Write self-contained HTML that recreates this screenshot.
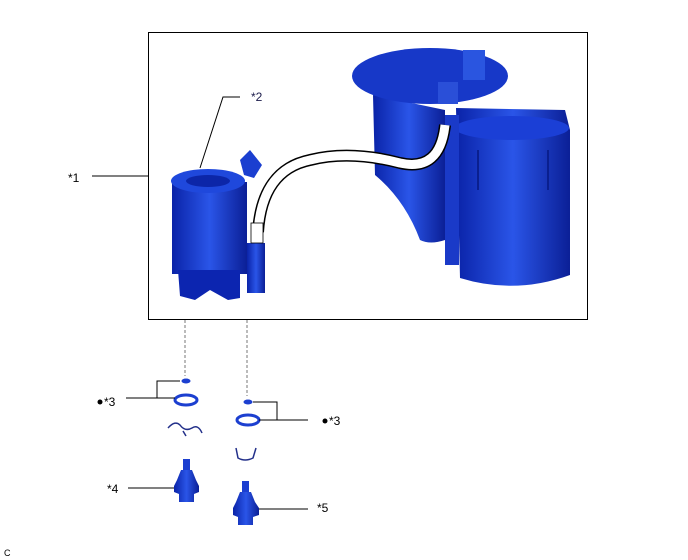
<!DOCTYPE html>
<html><head><style>
html,body{margin:0;padding:0;background:#fff;}
svg{display:block;font-family:"Liberation Sans",sans-serif;}
</style></head><body>
<svg width="688" height="560" viewBox="0 0 688 560" xmlns="http://www.w3.org/2000/svg">
<defs>
<linearGradient id="b" x1="0" x2="1"><stop offset="0" stop-color="#0a23a8"/><stop offset="0.5" stop-color="#2a55e8"/><stop offset="1" stop-color="#0b1f96"/></linearGradient>
</defs>
<rect x="148.5" y="32.5" width="439" height="287" fill="none" stroke="#000" stroke-width="1"/>
<text x="68" y="182" font-size="12">*1</text>
<line x1="92" y1="176" x2="148" y2="176" stroke="#000"/>
<text x="251" y="101" font-size="12" fill="#1a1a4a">*2</text>
<polyline points="240,97 223,97 200,168" fill="none" stroke="#000"/>
<path d="M373,95 L445,110 L445,240 Q430,245 420,240 Q405,200 375,175 Z" fill="url(#b)"/>
<path d="M456,108 L565,110 L570,130 L570,275 Q515,295 460,278 Z" fill="url(#b)"/>
<ellipse cx="512" cy="128" rx="57" ry="12" fill="#1b3fd6"/>
<line x1="478" y1="150" x2="478" y2="190" stroke="#0a1f8f" stroke-width="2"/>
<line x1="548" y1="150" x2="548" y2="190" stroke="#0a1f8f" stroke-width="2"/>
<rect x="445" y="115" width="14" height="150" fill="#1a3ac8"/>
<ellipse cx="430" cy="76" rx="78" ry="28" fill="#1738c8"/>
<rect x="463" y="50" width="22" height="30" fill="#2a55e0"/>
<rect x="438" y="82" width="20" height="22" fill="#2a4fd8"/>
<path d="M258,232 Q262,170 310,160 Q350,150 400,163 Q440,172 445,125" fill="none" stroke="#000" stroke-width="12"/>
<path d="M258,232 Q262,170 310,160 Q350,150 400,163 Q440,172 445,125" fill="none" stroke="#fff" stroke-width="9"/>
<rect x="172" y="182" width="75" height="92" fill="url(#b)"/>
<path d="M178,270 L240,270 L240,298 L228,300 L210,290 L195,300 L180,296 Z" fill="#0c25b0"/>
<ellipse cx="208" cy="181" rx="37" ry="12" fill="#1f48dc"/>
<ellipse cx="208" cy="181" rx="22" ry="6" fill="#0c26a8"/>
<path d="M240,160 L250,150 L262,165 L254,178 L244,175 Z" fill="#1b3fd0"/>
<rect x="247" y="243" width="18" height="50" fill="url(#b)"/>
<rect x="251" y="223" width="12" height="20" fill="#fff" stroke="#000" stroke-width="0.8"/>
<line x1="185" y1="320" x2="185" y2="376" stroke="#777" stroke-dasharray="3,2"/>
<line x1="247" y1="320" x2="247" y2="396" stroke="#777" stroke-dasharray="3,2"/>
<ellipse cx="186" cy="381" rx="4.5" ry="2.5" fill="#1c3fd0"/>
<ellipse cx="186" cy="400" rx="11" ry="5" fill="none" stroke="#1c3fd0" stroke-width="3"/>
<polyline points="180,381 157,381 157,398" fill="none" stroke="#000"/>
<line x1="126" y1="398" x2="175" y2="398" stroke="#000"/>
<circle cx="100" cy="402" r="2.5" fill="#000"/>
<text x="104" y="406" font-size="12">*3</text>
<ellipse cx="248" cy="402" rx="4.5" ry="2.5" fill="#1c3fd0"/>
<ellipse cx="248" cy="420" rx="11" ry="5" fill="none" stroke="#1c3fd0" stroke-width="3"/>
<polyline points="253,402 277,402 277,420" fill="none" stroke="#000"/>
<line x1="259" y1="420" x2="308" y2="420" stroke="#000"/>
<circle cx="325" cy="421" r="2.5" fill="#000"/>
<text x="329" y="425" font-size="12">*3</text>
<path d="M168,428 Q175,420 180,425 Q185,432 192,428 Q198,424 202,433 M183,431 L186,436" fill="none" stroke="#23308a" stroke-width="1.5"/>
<path d="M236,448 L238,458 Q245,462 253,458 L256,448" fill="none" stroke="#23308a" stroke-width="1.5"/>
<rect x="183" y="459" width="7" height="12" fill="#1c3fd0"/>
<path d="M181,470 L192,470 L196,480 L199,486 L199,492 L194,494 L194,502 L179,502 L179,494 L174,492 L174,486 L177,480 Z" fill="url(#b)"/>
<text x="107" y="493" font-size="12">*4</text>
<line x1="128" y1="488" x2="174" y2="488" stroke="#000"/>
<rect x="242" y="481" width="7" height="12" fill="#1c3fd0"/>
<path d="M240,492 L251,492 L255,502 L259,508 L259,515 L253,517 L253,525 L238,525 L238,517 L233,515 L233,508 L236,502 Z" fill="url(#b)"/>
<text x="317" y="512" font-size="12">*5</text>
<line x1="259" y1="509" x2="308" y2="509" stroke="#000"/>
<text x="4" y="556" font-size="9">C</text>
</svg>
</body></html>
